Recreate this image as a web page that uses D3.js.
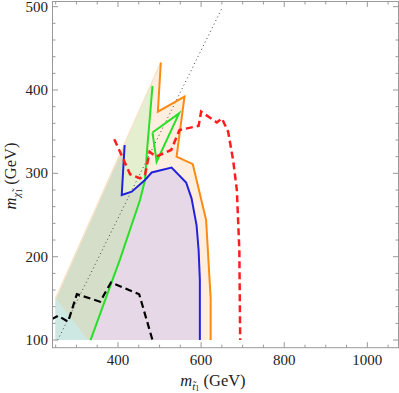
<!DOCTYPE html>
<html>
<head>
<meta charset="utf-8">
<script src="https://cdn.jsdelivr.net/npm/d3@7"></script>
<style>
  body { margin: 0; background: #fff; }
  svg { display: block; font-family: "Liberation Serif", "DejaVu Serif", serif; }
</style>
</head>
<body>
<div id="chart"></div>
<script>
// data, (m_stop, m_chi) in GeV
const leftEdge   = [[250, 100], [250, 150], [503, 433]];
const orangeLine = [[503, 433], [496, 374], [560, 392], [541, 320], [580, 311], [612, 244], [623, 150], [623, 100]];
const greenLine  = [[483, 405], [470, 328], [465, 292], [453, 268], [405, 197], [334, 100]];
const greenTri   = [[483, 349], [547, 372], [493, 314], [483, 349]];
const blueLine   = [[416, 334], [409, 274], [433, 278], [465, 292], [481, 301], [529, 307], [564, 289], [577, 270], [589, 238], [594, 208], [597, 172], [597, 100]];
const cyanPatch  = [[250, 150], [250, 100], [328, 100]];
const redLimit   = [[391, 341], [412, 318], [429, 299], [453, 294], [465, 298], [476, 326], [491, 320], [528, 328], [548, 352], [594, 357], [600, 374], [638, 361], [650, 366], [665, 350], [677, 316], [686, 280], [692, 208], [694, 100]];
const blackLimit = [[240, 125], [256, 129], [280, 122], [301, 155], [357, 146], [383, 169], [451, 155], [483, 100]];
const topLine    = [[255, 100], [652, 500]];
const xTicks = [400, 600, 800, 1000];
const yTicks = [100, 200, 300, 400, 500];

const W = 399, H = 393;
const plot = { left: 52.5, right: 398.5, top: 1.5, bottom: 347.7 };

const x = d3.scaleLinear().domain([242.4, 1075]).range([plot.left, plot.right]);
const y = d3.scaleLinear().domain([90.8, 506.2]).range([plot.bottom, plot.top]);

const svg = d3.select("#chart").append("svg")
    .attr("width", W)
    .attr("height", H);

const defs = svg.append("defs");
defs.append("clipPath").attr("id", "plotClip")
    .append("rect")
    .attr("x", plot.left).attr("y", plot.top)
    .attr("width", plot.right - plot.left).attr("height", plot.bottom - plot.top);

const line = d3.line().x(d => x(d[0])).y(d => y(d[1]));

// the regions, built from the boundary lines
const peachPoly  = [leftEdge[0], leftEdge[1], leftEdge[2]].concat(orangeLine);
const diagAt = yy => [leftEdge[1][0] + (yy - leftEdge[1][1]) * (leftEdge[2][0] - leftEdge[1][0]) / (leftEdge[2][1] - leftEdge[1][1]), yy];
const greenPoly  = [leftEdge[0], leftEdge[1], diagAt(greenLine[0][1])].concat(greenLine);
const purplePoly = [leftEdge[0], leftEdge[1], diagAt(blueLine[0][1])].concat(blueLine);

defs.append("clipPath").attr("id", "purpleClip")
    .append("path").attr("d", line(purplePoly) + "Z");

const g = svg.append("g").attr("clip-path", "url(#plotClip)");

g.append("path").attr("d", line(peachPoly) + "Z").attr("fill", "#fdeee0");
g.append("path").attr("d", line(greenPoly) + "Z").attr("fill", "#e4efcf");
g.append("path").attr("d", line(purplePoly) + "Z").attr("fill", "#e6d8e7");
g.append("path").attr("d", line(greenPoly) + "Z").attr("fill", "#d5dec9")
    .attr("clip-path", "url(#purpleClip)");
g.append("path").attr("d", line(cyanPatch) + "Z").attr("fill", "#cde8e3");

// soft edge of the shaded region
g.append("path").attr("d", line(leftEdge.slice(1)))
    .attr("fill", "none").attr("stroke", "#f8e2c8").attr("stroke-width", 1.5);

// kinematic line
g.append("path").attr("d", line(topLine))
    .attr("fill", "none").attr("stroke", "#444").attr("stroke-width", 1)
    .attr("stroke-dasharray", "1,3");

g.append("path").attr("d", line(orangeLine))
    .attr("fill", "none").attr("stroke", "#ff8a12").attr("stroke-width", 2);
g.append("path").attr("d", line(greenLine))
    .attr("fill", "none").attr("stroke", "#28e028").attr("stroke-width", 2);
g.append("path").attr("d", line(greenTri))
    .attr("fill", "none").attr("stroke", "#28e028").attr("stroke-width", 2)
    .attr("stroke-linejoin", "miter");
g.append("path").attr("d", line(blueLine))
    .attr("fill", "none").attr("stroke", "#2222dd").attr("stroke-width", 2);
g.append("path").attr("d", line(redLimit))
    .attr("fill", "none").attr("stroke", "#ff1e1e").attr("stroke-width", 2.5)
    .attr("stroke-dasharray", "7,4");
g.append("path").attr("d", line(blackLimit))
    .attr("fill", "none").attr("stroke", "#000").attr("stroke-width", 2.2)
    .attr("stroke-dasharray", "7,4");

// frame with inward ticks
const frameColor = "#999";
svg.append("rect")
    .attr("x", plot.left).attr("y", plot.top)
    .attr("width", plot.right - plot.left).attr("height", plot.bottom - plot.top)
    .attr("fill", "none").attr("stroke", frameColor).attr("stroke-width", 1);

const xMinor = d3.range(250, 1075, 50);
const yMinor = d3.range(100, 506, 20);

const ticks = svg.append("g").attr("stroke", frameColor).attr("stroke-width", 1);
xMinor.forEach(v => {
  const len = xTicks.includes(v) ? 5.5 : 3;
  ticks.append("line").attr("x1", x(v)).attr("x2", x(v)).attr("y1", plot.bottom).attr("y2", plot.bottom - len);
  ticks.append("line").attr("x1", x(v)).attr("x2", x(v)).attr("y1", plot.top).attr("y2", plot.top + len);
});
yMinor.forEach(v => {
  const len = yTicks.includes(v) ? 5.5 : 3;
  ticks.append("line").attr("y1", y(v)).attr("y2", y(v)).attr("x1", plot.left).attr("x2", plot.left + len);
  ticks.append("line").attr("y1", y(v)).attr("y2", y(v)).attr("x1", plot.right).attr("x2", plot.right - len);
});

svg.append("g").selectAll("text")
    .data(xTicks).enter().append("text")
    .attr("x", d => x(d))
    .attr("y", 364.5)
    .attr("text-anchor", "middle")
    .style("font-size", "15px")
    .style("fill", "#222")
    .text(d => d);

svg.append("g").selectAll("text")
    .data(yTicks).enter().append("text")
    .attr("x", 48)
    .attr("y", d => y(d))
    .attr("dy", "0.34em")
    .attr("text-anchor", "end")
    .style("font-size", "15px")
    .style("fill", "#222")
    .text(d => d);

// axis titles
const xt = svg.append("text")
    .attr("x", 213).attr("y", 385.5)
    .attr("text-anchor", "middle")
    .style("font-size", "16.5px")
    .style("fill", "#222");
xt.append("tspan").style("font-style", "italic").text("m");
xt.append("tspan").attr("dy", 4).style("font-size", "11px").style("font-style", "italic").text("t\u0303");
xt.append("tspan").attr("dy", 1.5).style("font-size", "8px").text("1");
xt.append("tspan").attr("dy", -5.5).text(" (GeV)");

const yt = svg.append("text")
    .attr("transform", "translate(16,176) rotate(-90)")
    .attr("text-anchor", "middle")
    .style("font-size", "16.5px")
    .style("fill", "#222");
yt.append("tspan").style("font-style", "italic").text("m");
yt.append("tspan").attr("dy", 4).style("font-size", "11px").style("font-style", "italic").text("\u03c7\u0303");
yt.append("tspan").attr("dy", 1.5).style("font-size", "8px").text("1");
yt.append("tspan").attr("dy", -5.5).text(" (GeV)");
</script>
</body>
</html>
